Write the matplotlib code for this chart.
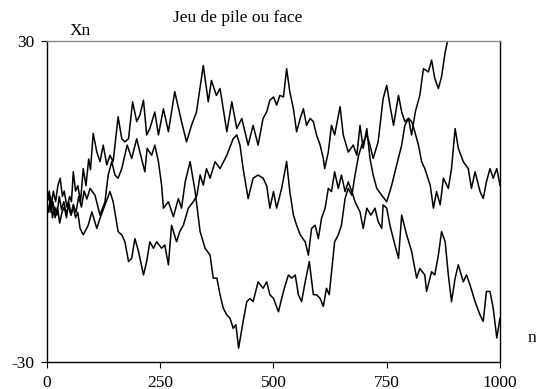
import matplotlib
matplotlib.use("Agg")
import matplotlib.pyplot as plt

# three coin-toss walks, (n, Xn) at turning points
walk1 = [(0, 0), (5, 2), (9, -1), (14, 2), (19, 0), (24, 3), (29, 4.4), (34, 1), (38, 2), (44, -1),
         (50, 1), (54, 0), (58, 5.6), (63, 2), (68, 3), (74, 0), (80, 6.2), (86, 3), (92, 8), (96, 6),
         (102, 12.8), (110, 9.3), (117, 7.5), (124, 10.6), (132, 6.9), (139, 8.7), (146, 7.5), (157, 15.9),
         (165, 11.8), (172, 11.2), (180, 11.8), (189, 18.7), (198, 15), (205, 16.2), (213, 19), (220, 12.5),
         (227, 13.7), (238, 16.8), (246, 12.5), (257, 17.4), (268, 13.1), (282, 20.6), (297, 15), (308, 11.2),
         (319, 14.3), (330, 16.8), (345, 25.5), (356, 18.7), (363, 22.7), (374, 19.9), (382, 21.2), (397, 13.1),
         (408, 18.7), (419, 13.7), (430, 15.6), (444, 10.6), (455, 14.3), (466, 10.6), (477, 15.6), (485, 16.8),
         (492, 19), (500, 19.6), (507, 18.1), (514, 19.9), (522, 19.6), (529, 24.9), (536, 20.6), (544, 17.4),
         (551, 13.1), (559, 15.6), (566, 17.4), (573, 14.3), (581, 15.6), (588, 15), (595, 12.5), (603, 10.6),
         (610, 8.1), (613, 6.2), (621, 9.3), (628, 14.3), (635, 12.5), (647, 17.8), (654, 12.5), (665, 9.3),
         (676, 10.6), (684, 8.7), (691, 14.3), (698, 10), (706, 13.7), (713, 8.1), (720, 5), (728, 2.5),
         (739, 1.2), (750, 0), (761, 3.1), (772, 6.9), (783, 10.6), (790, 14.3), (798, 15.6), (805, 15),
         (812, 13.1), (820, 10.6), (827, 7.5), (834, 6.2), (846, 3.1), (853, -1.2), (860, 1.9), (868, -0.6),
         (875, 4.4), (886, 2.5), (893, 6.2), (901, 13.7), (908, 10), (919, 7.5), (930, 6.2), (937, 2.5),
         (945, 5.6), (956, 1.9), (963, 0.6), (970, 3.7), (978, 6.2), (985, 4.4), (993, 6.2), (1000, 3.1)]

walk2 = [(0, 0), (4, -2), (8, 1), (12, -3), (17, -1), (22, -2.5), (27, 1), (32, -1.5), (37, 0), (42, -2),
         (48, -1), (53, -2.5), (58, -0.5), (64, -2), (70, 1), (76, -1), (82, 2), (88, 0.5), (95, 2.5),
         (106, 1.2), (117, -2.5), (128, 0), (135, 5), (143, 7.5), (150, 5), (157, 4.4), (165, 6.2), (177, 10.6),
         (187, 8.1), (198, 11.8), (205, 9.3), (216, 5.6), (221, 10), (231, 8.7), (238, 10.6), (246, 7.5),
         (253, 3.1), (257, -1.2), (268, 0), (279, -2.8), (290, 0.6), (297, -1.2), (305, 3.7), (316, 7.5),
         (327, 1.9), (338, -5.6), (349, -8.7), (360, -10), (367, -14.3), (375, -14.3), (382, -17.4),
         (389, -19.9), (397, -21.2), (404, -21.8), (411, -23.7), (417, -23), (423, -27.4), (433, -22.4),
         (441, -18.7), (448, -18.1), (455, -18.7), (466, -15), (477, -16.2), (485, -15), (492, -17.4),
         (500, -18.1), (511, -20.6), (518, -18.1), (526, -15.6), (533, -13.7), (540, -14.3), (548, -13.7),
         (555, -17.4), (562, -18.7), (570, -15), (579, -11.2), (588, -17.4), (595, -17.4), (603, -18.1),
         (610, -19.6), (617, -16.2), (623, -17.4), (635, -7.5), (643, -6.2), (650, -4.4), (658, 0.6),
         (665, 2.5), (673, 1.2), (680, 5), (688, 8.7), (695, 10.6), (706, 12.5), (713, 10.6), (720, 8.1),
         (731, 11.2), (742, 19.3), (750, 21.8), (757, 18.1), (765, 14.3), (776, 19.9), (783, 16.8), (790, 15),
         (798, 15.6), (805, 12.5), (813, 16.8), (823, 19.9), (831, 24.9), (842, 24.3), (849, 26.5),
         (856, 23.1), (864, 21.2), (871, 23.4), (879, 28), (884, 30)]

walk3 = [(0, 0), (5, 1), (9, -2), (13, 0), (18, -3), (23, -1), (28, -4), (33, -2), (38, -1), (43, -3),
         (48, 0), (53, -2.5), (58, -1), (63, -3), (68, -2), (73, -5), (80, -6.2), (91, -4.4), (99, -1.9),
         (110, -5), (117, -3.1), (128, -0.6), (139, 1.9), (146, 0), (157, -5.6), (165, -6.2), (172, -7.5),
         (180, -11.2), (187, -10.6), (194, -6.9), (202, -9.3), (213, -13.7), (220, -11.2), (227, -7.5),
         (235, -8.7), (242, -7.5), (253, -8.7), (260, -8.1), (268, -11.8), (275, -4.4), (286, -7.5),
         (293, -5.6), (301, -4.4), (312, -1.2), (323, 0), (331, 1.2), (338, 5), (345, 3.1), (352, 6.2),
         (360, 4.4), (371, 7.5), (382, 6.2), (397, 8.7), (411, 11.8), (419, 12.5), (426, 10.6), (433, 6.2),
         (444, 0.6), (455, 4.4), (466, 5), (477, 4.4), (485, 3), (492, -1.2), (500, 1.9), (507, -1.2),
         (518, 2.5), (529, 7.5), (536, 1.9), (544, -2.5), (551, -4.4), (559, -6.2), (570, -7.5), (577, -10),
         (584, -5), (592, -4.4), (599, -6.9), (606, -3.1), (614, -1.2), (621, 2.5), (628, 1.9), (635, 5.6),
         (643, 2.5), (650, 5), (658, 1.9), (665, 3.7), (673, 1.9), (680, 0), (691, -1.9), (698, -5),
         (706, -1.2), (715, -2.5), (724, -1.2), (731, -3.7), (739, -5), (742, -0.6), (750, -1.2), (757, -4.4),
         (768, -8.1), (776, -10.6), (783, -2.5), (794, -6.2), (805, -9.3), (816, -14.3), (823, -12.5),
         (834, -13.7), (838, -16.8), (849, -13.1), (856, -13.7), (864, -10), (871, -5.6), (879, -7.5),
         (886, -13.7), (893, -18.7), (901, -14.3), (908, -11.8), (919, -15), (926, -13.7), (934, -15.6),
         (945, -18.7), (956, -21.2), (963, -22.4), (970, -16.8), (978, -16.8), (985, -19.9), (993, -25.5),
         (1000, -21.8)]

x_ticks = [0, 250, 500, 750, 1000]
y_ticks = [-30, 30]

plt.rcParams['font.family'] = ['Liberation Serif', 'DejaVu Serif']
plt.rcParams['axes.unicode_minus'] = False

fig = plt.figure(figsize=(5.36, 3.89), dpi=100)
ax = fig.add_axes([0.0877, 0.0694, 0.8451, 0.824])

for walk in (walk1, walk2, walk3):
    n, x = zip(*walk)
    ax.plot(n, x, color='black', lw=1.1)

ax.set_xlim(0, 1000)
ax.set_ylim(-30, 30)
ax.set_xticks(x_ticks)
ax.set_yticks(y_ticks)
ax.tick_params(labelsize=12.5, length=4, width=0.8, direction='out', pad=5)
for s in ('left', 'bottom', 'right'):
    ax.spines[s].set_color('black')
    ax.spines[s].set_linewidth(1.0)
ax.spines['top'].set_color('#888888')
ax.spines['top'].set_linewidth(1.0)

fig.text(0.444, 0.953, 'Jeu de pile ou face', ha='center', va='center', fontsize=12.5)
fig.text(0.15, 0.92, 'Xn', ha='center', va='center', fontsize=12.5)
fig.text(0.985, 0.13, 'n', ha='left', va='center', fontsize=12.5)

fig.savefig('out.png', dpi=100)
